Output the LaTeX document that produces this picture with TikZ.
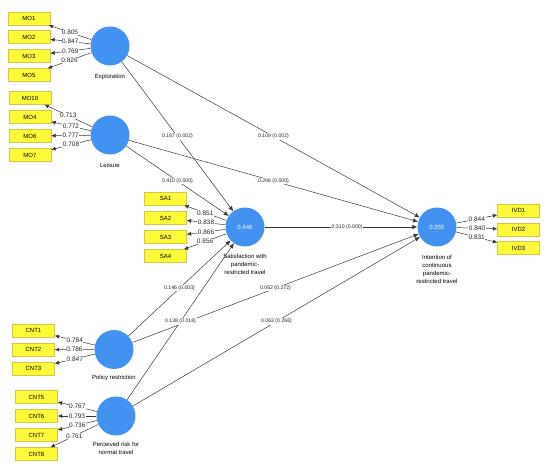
\documentclass[tikz,border=0pt]{standalone}
\usepackage{fontspec}
\setmainfont{Liberation Sans}
\usepackage{tikz}
\usetikzlibrary{arrows.meta,positioning}
\definecolor{LatentBlue}{RGB}{66, 146, 242}
\definecolor{ItemYellow}{RGB}{255, 250, 55}
\definecolor{ItemEdge}{RGB}{210, 200, 70}
\definecolor{LinkGray}{RGB}{55, 55, 55}

\begin{document}
\begin{tikzpicture}[x=1pt, y=-1pt,
    latent/.style={circle, fill=LatentBlue, minimum size=39pt, inner sep=0pt, text=white, font=\fontsize{6}{7}\selectfont},
    item/.style={rectangle, fill=ItemYellow, draw=ItemEdge, line width=0.3pt, minimum width=42pt, minimum height=13pt, inner sep=0pt, font=\fontsize{6}{7}\selectfont},
    caption/.style={align=center, inner sep=0pt, font=\fontsize{6}{8}\selectfont},
    load/.style={-{Latex[length=4.5pt, width=4pt]}, line width=0.5pt, LinkGray},
    loadval/.style={fill=white, inner sep=0.6pt, text=black!85, font=\fontsize{6.5}{7}\selectfont},
    relpath/.style={-{Latex[length=5pt, width=4.5pt]}, line width=0.5pt, LinkGray},
    coef/.style={fill=white, inner sep=0.6pt, text=black!85, font=\fontsize{5.2}{6}\selectfont}]
        \useasboundingbox (0,0) rectangle (550,471);

        % Bien tiem an
        \node[latent] (expl) at (110,46) {};
        \node[latent] (leis) at (110,135) {};
        \node[latent] (sat) at (245,227) {0.446};
        \node[latent] (intent) at (437,227) {0.355};
        \node[latent] (pol) at (114,349.5) {};
        \node[latent] (risk) at (116,416) {};

        \node[caption, below=8pt of expl] (explcap) {Exploration};
        \node[caption, below=8pt of leis] (leiscap) {Leisure};
        \node[caption, below=7pt of sat] (satcap) {Satisfaction with\\pandemic-\\restricted travel};
        \node[caption, below=8pt of intent] (intentcap) {Intention of\\continuous\\pandemic-\\restricted travel};
        \node[caption, below=6pt of pol] (polcap) {Policy restriction};
        \node[caption, below=6pt of risk] (riskcap) {Perceived risk for\\normal travel};

        % Chi bao
        \node[item] (mo1) at (29,18.5) {MO1};
        \node[item] (mo2) at (29,37) {MO2};
        \node[item] (mo3) at (29,56) {MO3};
        \node[item] (mo5) at (29,75) {MO5};
        \node[item] (mo10) at (30,98) {MO10};
        \node[item] (mo4) at (30,117) {MO4};
        \node[item] (mo6) at (30,136) {MO6};
        \node[item] (mo7) at (30,155) {MO7};
        \node[item] (sa1) at (165.5,198.7) {SA1};
        \node[item] (sa2) at (165.5,218) {SA2};
        \node[item] (sa3) at (165.5,237) {SA3};
        \node[item] (sa4) at (165.5,256) {SA4};
        \node[item] (cnt1) at (33.5,330.7) {CNT1};
        \node[item] (cnt2) at (33.5,349.7) {CNT2};
        \node[item] (cnt3) at (33.5,368.7) {CNT3};
        \node[item] (cnt5) at (36.5,397) {CNT5};
        \node[item] (cnt6) at (36.5,416) {CNT6};
        \node[item] (cnt7) at (36.5,435) {CNT7};
        \node[item] (cnt8) at (36.5,454) {CNT8};
        \node[item] (ivd1) at (518.5,210.7) {IVD1};
        \node[item] (ivd2) at (518.5,229.5) {IVD2};
        \node[item] (ivd3) at (518.5,248) {IVD3};

        % He so tai
        \draw[load] (expl) -- (mo1) node[loadval, midway] {0.805};
        \draw[load] (expl) -- (mo2) node[loadval, midway] {0.847};
        \draw[load] (expl) -- (mo3) node[loadval, midway] {0.769};
        \draw[load] (expl) -- (mo5) node[loadval, midway] {0.826};
        \draw[load] (leis) -- (mo10) node[loadval, midway] {0.713};
        \draw[load] (leis) -- (mo4) node[loadval, midway] {0.772};
        \draw[load] (leis) -- (mo6) node[loadval, midway] {0.777};
        \draw[load] (leis) -- (mo7) node[loadval, midway] {0.708};
        \draw[load] (sat) -- (sa1) node[loadval, midway] {0.851};
        \draw[load] (sat) -- (sa2) node[loadval, midway] {0.838};
        \draw[load] (sat) -- (sa3) node[loadval, midway] {0.866};
        \draw[load] (sat) -- (sa4) node[loadval, midway] {0.856};
        \draw[load] (pol) -- (cnt1) node[loadval, midway] {0.784};
        \draw[load] (pol) -- (cnt2) node[loadval, midway] {0.786};
        \draw[load] (pol) -- (cnt3) node[loadval, midway] {0.847};
        \draw[load] (risk) -- (cnt5) node[loadval, midway] {0.767};
        \draw[load] (risk) -- (cnt6) node[loadval, midway] {0.793};
        \draw[load] (risk) -- (cnt7) node[loadval, midway] {0.736};
        \draw[load] (risk) -- (cnt8) node[loadval, midway] {0.761};
        \draw[load] (intent) -- (ivd1) node[loadval, midway] {0.844};
        \draw[load] (intent) -- (ivd2) node[loadval, midway] {0.840};
        \draw[load] (intent) -- (ivd3) node[loadval, midway] {0.831};

        % He so duong dan
        \draw[relpath] (expl) -- (sat) node[coef, midway] {0.167 (0.002)};
        \draw[relpath] (expl) -- (intent) node[coef, midway] {0.109 (0.002)};
        \draw[relpath] (leis) -- (sat) node[coef, midway] {0.410 (0.000)};
        \draw[relpath] (leis) -- (intent) node[coef, midway] {0.206 (0.000)};
        \draw[relpath] (sat) -- (intent) node[coef, pos=0.54] {0.310 (0.000)};
        \draw[relpath] (pol) -- (intent) node[coef, midway] {0.062 (0.272)};
        \draw[relpath] (risk) -- (intent) node[coef, midway] {0.063 (0.266)};
        \draw[relpath] (pol) -- (sat) node[coef, midway] {0.146 (0.003)};
        \draw[relpath] (risk) -- (sat) node[coef, midway] {0.138 (0.018)};
      \end{tikzpicture}
\end{document}
